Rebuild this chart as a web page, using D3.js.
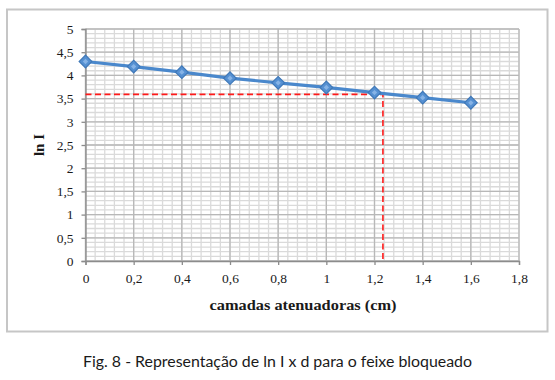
<!DOCTYPE html>
<html><head><meta charset="utf-8">
<script src="https://cdn.jsdelivr.net/npm/d3@7"></script>
<style>
html,body{margin:0;padding:0;background:#fff;}
svg{display:block;}
</style></head>
<body>
<svg id="chart" width="555" height="380"></svg>
<script>
const xValues = [0, 0.2, 0.4, 0.6, 0.8, 1.0, 1.2, 1.4, 1.6];
const lnI = [4.30, 4.19, 4.07, 3.94, 3.84, 3.74, 3.63, 3.52, 3.41];
const xTicks = [0, 0.2, 0.4, 0.6, 0.8, 1.0, 1.2, 1.4, 1.6, 1.8];
const yTicks = [0, 0.5, 1, 1.5, 2, 2.5, 3, 3.5, 4, 4.5, 5];
const refY = 3.59;
const refX = 1.235;
const xTitle = "camadas atenuadoras (cm)";
const yTitle = "ln I";
const caption = "Fig. 8 - Representação de ln I x d para o feixe bloqueado";

const svg = d3.select("#chart");
const pLeft = 85.5, pRight = 519, pTop = 29, pBottom = 261;
const x = d3.scaleLinear().domain([0, 1.8]).range([pLeft, pRight]);
const y = d3.scaleLinear().domain([0, 5]).range([pBottom, pTop]);
const fmt = d => d3.format("")(d).replace(".", ",");

// outer frame
svg.append("rect").attr("x", 7).attr("y", 9.5).attr("width", 540.5).attr("height", 322)
  .attr("fill", "#fff").attr("stroke", "#c6c6c6").attr("stroke-width", 2);

// minor grid
const xMinor = d3.range(0, 1.8001, 0.04);
const yMinor = d3.range(0, 5.0001, 0.1);
const g = svg.append("g");
g.selectAll(".ymin").data(yMinor).join("line")
  .attr("x1", pLeft).attr("x2", pRight).attr("y1", d => y(d)).attr("y2", d => y(d))
  .attr("stroke", "#dadada").attr("stroke-width", 1.3);
g.selectAll(".xmin").data(xMinor).join("line")
  .attr("y1", pTop).attr("y2", pBottom).attr("x1", d => x(d)).attr("x2", d => x(d))
  .attr("stroke", "#dadada").attr("stroke-width", 1.3);
// major grid
g.selectAll(".ymaj").data(yTicks).join("line")
  .attr("x1", pLeft).attr("x2", pRight).attr("y1", d => y(d)).attr("y2", d => y(d))
  .attr("stroke", "#b8b8b8").attr("stroke-width", 1.3);
g.selectAll(".xmaj").data(xTicks).join("line")
  .attr("y1", pTop).attr("y2", pBottom).attr("x1", d => x(d)).attr("x2", d => x(d))
  .attr("stroke", "#b8b8b8").attr("stroke-width", 1.3);

// axes
const xAxis = svg.append("g").attr("transform", `translate(0,${pBottom})`)
  .call(d3.axisBottom(x).tickValues(xTicks).tickFormat(fmt).tickSize(4).tickPadding(8));
const yAxis = svg.append("g").attr("transform", `translate(${pLeft},0)`)
  .call(d3.axisLeft(y).tickValues(yTicks).tickFormat(fmt).tickSize(4).tickPadding(8));
[xAxis, yAxis].forEach(a => {
  a.select(".domain").attr("stroke", "#8c8c8c").attr("stroke-width", 1.3);
  a.selectAll(".tick line").attr("stroke", "#8c8c8c").attr("stroke-width", 1.3);
  a.selectAll("text").attr("fill", "#1a1a1a")
    .style("font-family", "'Liberation Serif', 'DejaVu Serif', serif").style("font-size", "13.5px");
});

// red reference lines
svg.append("path")
  .attr("d", d3.line()([[x(0), y(refY)], [x(refX), y(refY)], [x(refX), y(0)]]))
  .attr("fill", "none").attr("stroke", "#ff1a1a").attr("stroke-width", 1.6)
  .attr("stroke-dasharray", "6,3.5");

// data line
const pts = xValues.map((d, i) => [x(d), y(lnI[i])]);
svg.append("path").attr("d", d3.line()(pts))
  .attr("fill", "none").attr("stroke", "#4a88cc").attr("stroke-width", 3.2);
const sym = d3.symbol().type(d3.symbolSquare).size(80);
svg.selectAll(".pt").data(pts).join("path")
  .attr("transform", d => `translate(${d[0]},${d[1]}) rotate(45)`)
  .attr("d", sym).attr("fill", "#5590d2").attr("stroke", "#3f78b8").attr("stroke-width", 1.2);
svg.selectAll(".pti").data(pts).join("path")
  .attr("transform", d => `translate(${d[0]},${d[1]}) rotate(45)`)
  .attr("d", d3.symbol().type(d3.symbolSquare).size(14)).attr("fill", "#86b3e6");

// titles
svg.append("text").attr("x", 303).attr("y", 310).attr("text-anchor", "middle")
  .attr("textLength", 187).attr("lengthAdjust", "spacingAndGlyphs")
  .style("font-family", "'Liberation Serif', 'DejaVu Serif', serif").style("font-size", "15.5px")
  .style("font-weight", "bold").attr("fill", "#1a1a1a").text(xTitle);
svg.append("text").attr("transform", "translate(44,145) rotate(-90)").attr("text-anchor", "middle")
  .style("font-family", "'Liberation Serif', 'DejaVu Serif', serif").style("font-size", "15px")
  .style("font-weight", "bold").attr("fill", "#1a1a1a").text(yTitle);

svg.append("text").attr("x", 277.5).attr("y", 367).attr("text-anchor", "middle")
  .attr("textLength", 389).attr("lengthAdjust", "spacingAndGlyphs")
  .style("font-family", "Lato, 'Open Sans', sans-serif").style("font-size", "15.5px")
  .attr("fill", "#1a1a1a").text(caption);
</script>
</body></html>
